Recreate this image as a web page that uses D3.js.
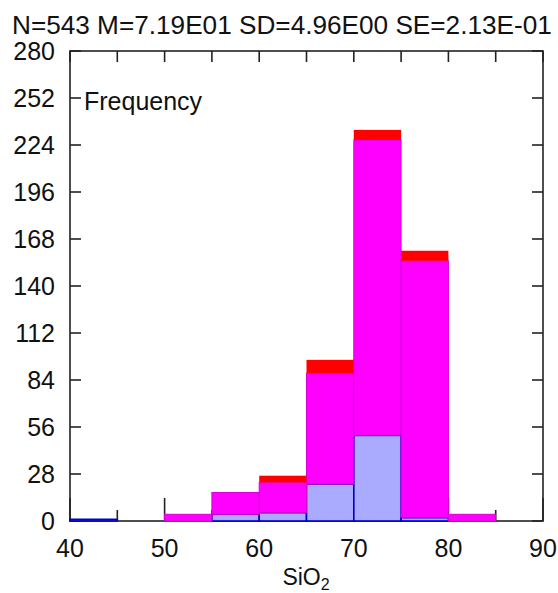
<!DOCTYPE html>
<html>
<head>
<meta charset="utf-8">
<script src="https://cdn.jsdelivr.net/npm/d3@7"></script>
<style>
  html, body { margin: 0; padding: 0; background: #fff; }
  svg { display: block; font-family: "Liberation Sans", Arial, sans-serif; }
</style>
</head>
<body>
<svg id="chart" width="558" height="593"></svg>
<script>
// SiO2 histogram, bins of 5 wt%, three stacked groups
const binStarts = [40, 45, 50, 55, 60, 65, 70, 75, 80, 85];
const groupA = [1, 0, 0, 4, 5, 22, 51, 2, 0, 0];        // light blue, bottom
const groupB = [0, 0, 4, 13, 18, 66, 176, 153, 4, 0];   // magenta, middle
const groupC = [0, 0, 0, 0, 4, 8, 6, 6, 0, 0];          // red, top
const yTicks = [0, 28, 56, 84, 112, 140, 168, 196, 224, 252, 280];
const xTicks = [40, 50, 60, 70, 80, 90];
const xMinor = [40, 45, 50, 55, 60, 65, 70, 75, 80, 85, 90];
const binWidth = 5;
const statsLine = "N=543 M=7.19E01 SD=4.96E00 SE=2.13E-01";

const svg = d3.select("#chart");
const pLeft = 70, pRight = 543, pTop = 51, pBottom = 521;

const x = d3.scaleLinear().domain([40, 90]).range([pLeft, pRight]);
const y = d3.scaleLinear().domain([0, 280]).range([pBottom, pTop]);

// stacked layers
const rows = binStarts.map((b, i) => ({ bin: b, a: groupA[i], b2: groupB[i], c: groupC[i] }));
const stack = d3.stack().keys(["a", "b2", "c"]);
const layers = stack(rows);
const fills = { a: "#aaaaff", b2: "#ff00ff", c: "#ff0000" };
const strokes = { a: "#0000c8", b2: "#d800d8", c: "none" };
const strokeW = { a: 1.6, b2: 1, c: 0 };

const tickColor = "#222";
const tl = 11;

// inner ticks (drawn beneath the bars)
const tg = svg.append("g").attr("stroke", tickColor).attr("stroke-width", 1.6);
yTicks.forEach(v => {
  tg.append("line").attr("x1", pLeft).attr("x2", pLeft + tl).attr("y1", y(v)).attr("y2", y(v));
  tg.append("line").attr("x1", pRight).attr("x2", pRight - tl).attr("y1", y(v)).attr("y2", y(v));
});
xMinor.forEach(v => {
  const major = v % 10 === 0;
  tg.append("line").attr("x1", x(v)).attr("x2", x(v)).attr("y1", pTop).attr("y2", pTop + tl);
  tg.append("line").attr("x1", x(v)).attr("x2", x(v)).attr("y1", pBottom).attr("y2", pBottom - (major ? 23 : tl));
});

// frame
svg.append("rect")
  .attr("x", pLeft).attr("y", pTop).attr("width", pRight - pLeft).attr("height", pBottom - pTop)
  .attr("fill", "none").attr("stroke", tickColor).attr("stroke-width", 1.6);

// bars
layers.forEach(layer => {
  const key = layer.key;
  svg.append("g").selectAll("rect")
    .data(layer.filter(d => d[1] - d[0] > 0))
    .join("rect")
    .attr("x", d => x(d.data.bin))
    .attr("width", d => x(d.data.bin + binWidth) - x(d.data.bin))
    .attr("y", d => y(d[1]))
    .attr("height", d => y(d[0]) - y(d[1]))
    .attr("fill", fills[key])
    .attr("stroke", strokes[key])
    .attr("stroke-width", strokeW[key]);
});

// y tick labels
svg.append("g").selectAll("text")
  .data(yTicks).join("text")
  .attr("x", 55).attr("y", d => y(d))
  .attr("dy", "0.36em")
  .attr("text-anchor", "end")
  .attr("font-size", 25)
  .attr("fill", "#111")
  .text(d => d);

// x tick labels
svg.append("g").selectAll("text")
  .data(xTicks).join("text")
  .attr("x", d => x(d)).attr("y", 557)
  .attr("text-anchor", "middle")
  .attr("font-size", 25)
  .attr("fill", "#111")
  .text(d => d);

// axis title
const xl = svg.append("text").attr("x", 306).attr("y", 585)
  .attr("text-anchor", "middle").attr("font-size", 23).attr("fill", "#111");
xl.append("tspan").text("SiO");
xl.append("tspan").attr("font-size", 16).attr("dy", 5).text("2");

// in-plot label
svg.append("text").attr("x", 84).attr("y", 110)
  .attr("font-size", 25).attr("fill", "#111").text("Frequency");

// summary statistics line, fitted to the header width
const st = svg.append("text").attr("x", 12).attr("y", 34)
  .attr("font-size", 22).attr("fill", "#111").text(statsLine);
const w = st.node().getComputedTextLength();
st.attr("font-size", 22 * 540 / w);
</script>
</body>
</html>
